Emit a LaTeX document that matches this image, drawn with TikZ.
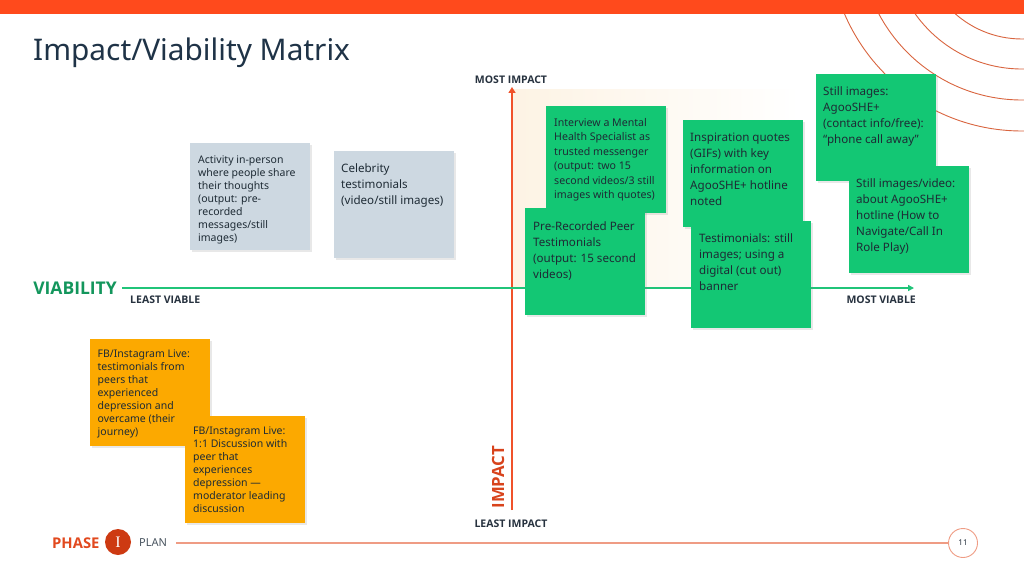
\documentclass[tikz,border=0pt]{standalone}
\usepackage{fontspec}
\setmainfont{Noto Sans}
\newfontfamily\labfont{Open Sans}
\newfontfamily\serifI{Liberation Serif}
\usetikzlibrary{arrows.meta,shadows,calc}
\definecolor{topbar}{HTML}{FF4A1C}
\definecolor{arcc}{HTML}{D9653F}
\definecolor{titlec}{HTML}{1F3347}
\definecolor{cream}{HTML}{FDF3E4}
\definecolor{greenbox}{HTML}{13C774}
\definecolor{graybox}{HTML}{CDD8E1}
\definecolor{orangebox}{HTML}{FCA900}
\definecolor{greenaxis}{HTML}{20C479}
\definecolor{orangeaxis}{HTML}{F0522A}
\definecolor{viac}{HTML}{13965C}
\definecolor{impc}{HTML}{D8431C}
\definecolor{labc}{HTML}{27323F}
\definecolor{boxtext}{HTML}{1E2B35}
\definecolor{phasec}{HTML}{E2491E}
\definecolor{phasecirc}{HTML}{CD3A12}
\definecolor{salmon}{HTML}{EF9C84}
\definecolor{planc}{HTML}{4A5560}
\begin{document}
\begin{tikzpicture}[x=1pt,y=-1pt,
  card/.style={rectangle, inner sep=0, minimum width=120, minimum height=107, anchor=north west,
    drop shadow={opacity=0.18, shadow xshift=1.5pt, shadow yshift=-1.5pt}},
  gcard/.style={card, fill=greenbox},
  ycard/.style={card, fill=graybox},
  ocard/.style={card, fill=orangebox},
  txt/.style={anchor=north west, inner sep=0, align=left, text=boxtext},
  small/.style={txt, font=\fontsize{10.5}{13}\selectfont},
  mid/.style={txt, font=\fontsize{10.6}{14.5}\selectfont},
  big/.style={txt, font=\fontsize{11.6}{16}\selectfont},
  axlab/.style={inner sep=0, text=labc, font=\labfont\bfseries\fontsize{10.5}{12}\selectfont}]
\useasboundingbox (0,0) rectangle (1024,575);
\fill[white] (0,0) rectangle (1024,575);
% arcs
\begin{scope}
  \clip (0,14) rectangle (1024,575);
  \foreach \r in {101,131,162,193}
    \draw[arcc, line width=0.9] (1022,-62) circle[radius=\r];
\end{scope}
\fill[topbar] (0,0) rectangle (1024,14);
% title
\node[anchor=base west, inner sep=0, text=titlec, font=\fontsize{29.8}{33}\selectfont] (title) at (33,61) {Impact/Viability Matrix};
% cream quadrant glow
\shade[left color=cream, right color=white] (513,90) rectangle (800,288);
% axes
\coordinate (vbot) at (512,510);
\coordinate (vtop) at (512,87);
\coordinate (hleft) at (122,288);
\coordinate (hright) at (914,288);
\draw[orangeaxis, line width=1.8, -{Triangle[length=6,width=7]}] (vbot) -- (vtop);
\draw[greenaxis, line width=1.4, -{Triangle[length=6,width=6]}] (hleft) -- (hright);
\node[axlab] (mostimp) at (511,80) {MOST IMPACT};
\node[axlab] (leastimp) at (511,524) {LEAST IMPACT};
\node[axlab, anchor=west] (leastv) at (130,300) {LEAST VIABLE};
\node[axlab, anchor=east] (mostv) at (916,300) {MOST VIABLE};
\node[anchor=east, inner sep=0, text=viac, font=\labfont\bfseries\fontsize{17.5}{19}\selectfont] (via) at (117,288) {VIABILITY};
\node[rotate=90, inner sep=0, text=impc, font=\labfont\bfseries\fontsize{16.8}{19}\selectfont] (imp) at (498,477) {IMPACT};
% gray cards
\node[ycard] (c1) at (190,143) {};
\node[small] (t1) at ($(c1.north west)+(8,13)$) {Activity in-person\\where people share\\their thoughts\\(output: pre-\\recorded\\messages/still\\images)};
\node[ycard] (c2) at (334,151) {};
\node[big] (t2) at ($(c2.north west)+(7,12)$) {Celebrity\\testimonials\\(video/still images)};
% green cards
\node[gcard] (c3) at (546,106) {};
\node[mid] (t3) at ($(c3.north west)+(8,12)$) {Interview a Mental\\Health Specialist as\\trusted messenger\\(output: two 15\\second videos/3 still\\images with quotes)};
\node[gcard] (c4) at (525,208) {};
\node[big] (t4) at ($(c4.north west)+(8,13)$) {Pre-Recorded Peer\\Testimonials\\(output: 15 second\\videos)};
\node[gcard] (c5) at (683,120) {};
\node[big] (t5) at ($(c5.north west)+(7,13)$) {Inspiration quotes\\(GIFs) with key\\information on\\AgooSHE+ hotline\\noted};
\node[gcard] (c6) at (691,221) {};
\node[big] (t6) at ($(c6.north west)+(8,12)$) {Testimonials: still\\images; using a\\digital (cut out)\\banner};
\node[gcard] (c7) at (816,74) {};
\node[big] (t7) at ($(c7.north west)+(7,12)$) {Still images:\\AgooSHE+\\(contact info/free):\\“phone call away”};
\node[gcard] (c8) at (849,166) {};
\node[big] (t8) at ($(c8.north west)+(7,12)$) {Still images/video:\\about AgooSHE+\\hotline (How to\\Navigate/Call In\\Role Play)};
% orange cards
\node[ocard] (c9) at (90,339) {};
\node[small] (t9) at ($(c9.north west)+(7.5,11)$) {FB/Instagram Live:\\testimonials from\\peers that\\experienced\\depression and\\overcame (their\\journey)};
\node[ocard] (c10) at (185,416) {};
\node[small] (t10) at ($(c10.north west)+(8,11)$) {FB/Instagram Live:\\1:1 Discussion with\\peer that\\experiences\\depression —\\moderator leading\\discussion};
% footer
\node[anchor=west, inner sep=0, text=phasec, font=\labfont\bfseries\fontsize{14.8}{17}\selectfont] (phase) at (52,543) {PHASE};
\node[circle, fill=phasecirc, minimum size=26, inner sep=0, text=white, font=\serifI\fontsize{16}{18}\selectfont] (ph1) at (118,542) {I};
\node[anchor=west, inner sep=0, text=planc, font=\fontsize{11}{13}\selectfont] (plan) at (139,543) {PLAN};
\node[circle, draw=salmon, line width=0.9, minimum size=29, inner sep=0, text=labc, font=\fontsize{8}{10}\selectfont] (pg) at (963,543) {11};
\draw[salmon, line width=1.1] ([xshift=9pt]plan.east) -- (pg.west);
\end{tikzpicture}
\end{document}
